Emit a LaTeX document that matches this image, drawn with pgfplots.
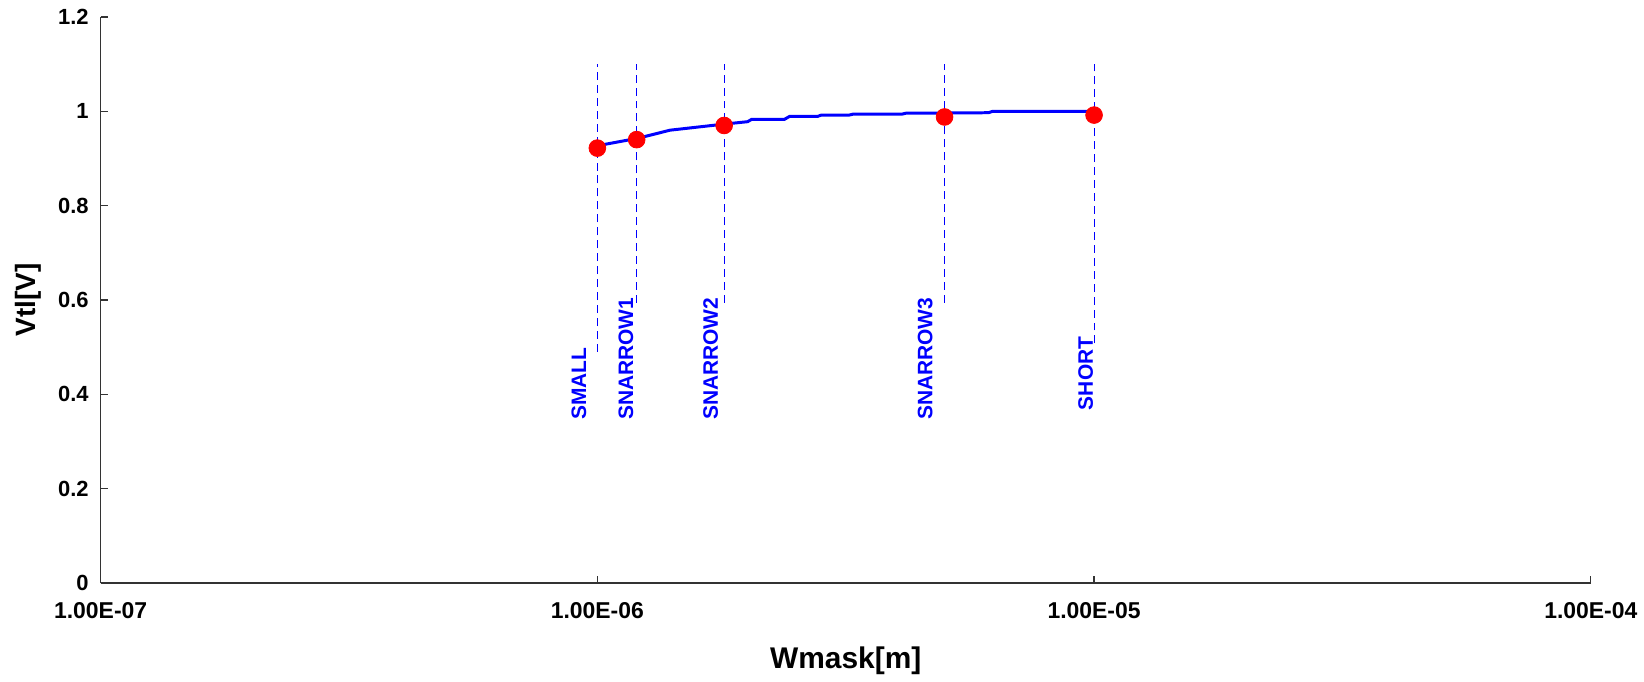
\documentclass[border=0pt]{standalone}
\usepackage{pgfplots}
\pgfplotsset{compat=1.18}
\usepackage{fontspec}
\setmainfont{Liberation Sans}
\begin{document}
\begin{tikzpicture}
\begin{axis}[
  at={(0,0)}, anchor=south west,
  scale only axis, width=747.5pt, height=284pt,
  xmode=log, xmin=1e-7, xmax=1e-4, ymin=0, ymax=1.2,
  xtick={1e-7,1e-6,1e-5,1e-4},
  xticklabels={1.00E-07,1.00E-06,1.00E-05,1.00E-04},
  xminorticks=false,
  ytick={0,0.2,0.4,0.6,0.8,1,1.2},
  axis lines=left,
  axis line style={-, line width=0.8pt, black!80},
  tick style={black!80, line width=0.6pt},
  major tick length=3.5pt, tick align=inside,
  xticklabel style={font=\bfseries\fontsize{11.5}{13}\selectfont, yshift=-6pt},
  yticklabel style={font=\bfseries\fontsize{11}{13}\selectfont, xshift=-2.5pt},
  /pgf/number format/assume math mode=true,
  xlabel={Wmask[m]}, ylabel={Vtl[V]},
  xlabel style={font=\bfseries\fontsize{15}{18}\selectfont, at={(axis description cs:0.5,-0.1373)}, anchor=center},
  ylabel style={font=\bfseries\fontsize{14}{17}\selectfont, at={(axis description cs:-0.0488,0.5)}, anchor=center},
  clip=false,
]
% dashed marker lines
\addplot[blue, line width=0.5pt, dash pattern=on 4pt off 2.5pt, forget plot] coordinates {(1e-6,0.49) (1e-6,1.1)};
\addplot[blue, line width=0.5pt, dash pattern=on 4pt off 2.5pt, forget plot] coordinates {(1.2e-6,0.594) (1.2e-6,1.1)};
\addplot[blue, line width=0.5pt, dash pattern=on 4pt off 2.5pt, forget plot] coordinates {(1.8e-6,0.594) (1.8e-6,1.1)};
\addplot[blue, line width=0.5pt, dash pattern=on 4pt off 2.5pt, forget plot] coordinates {(5e-6,0.594) (5e-6,1.1)};
\addplot[blue, line width=0.5pt, dash pattern=on 4pt off 2.5pt, forget plot] coordinates {(1e-5,0.508) (1e-5,1.1)};
% curve
\addplot[blue, line width=1.5pt, no marks] coordinates {
 (1.0e-6,0.927) (1.208e-6,0.943) (1.401e-6,0.960) (1.805e-6,0.973)
 (2.007e-6,0.978) (2.045e-6,0.983) (2.381e-6,0.983) (2.436e-6,0.989)
 (2.773e-6,0.989) (2.824e-6,0.992) (3.214e-6,0.992) (3.273e-6,0.994)
 (4.105e-6,0.994) (4.18e-6,0.996) (6.13e-6,0.997) (6.25e-6,1.000)
 (1.0e-5,1.000)};
% points
\addplot[only marks, mark=*, mark size=4.2pt, mark options={draw=red, fill=red}] coordinates {
 (1e-6,0.922) (1.2e-6,0.940) (1.8e-6,0.970) (5e-6,0.988) (1e-5,0.992)};
% labels
\node[rotate=90, anchor=south west, inner sep=0pt, text=blue, font=\bfseries\fontsize{10.5}{12}\selectfont] at (axis cs:0.9523e-6,0.345) {SMALL};
\node[rotate=90, anchor=south west, inner sep=0pt, text=blue, font=\bfseries\fontsize{10.5}{12}\selectfont] at (axis cs:1.184e-6,0.345) {SNARROW1};
\node[rotate=90, anchor=south west, inner sep=0pt, text=blue, font=\bfseries\fontsize{10.5}{12}\selectfont] at (axis cs:1.753e-6,0.345) {SNARROW2};
\node[rotate=90, anchor=south west, inner sep=0pt, text=blue, font=\bfseries\fontsize{10.5}{12}\selectfont] at (axis cs:4.737e-6,0.345) {SNARROW3};
\node[rotate=90, anchor=south west, inner sep=0pt, text=blue, font=\bfseries\fontsize{10.5}{12}\selectfont] at (axis cs:9.972e-6,0.366) {SHORT};
\end{axis}
\path (-50.5pt,-49pt) rectangle (771.5pt,292.5pt);
\end{tikzpicture}
\end{document}
